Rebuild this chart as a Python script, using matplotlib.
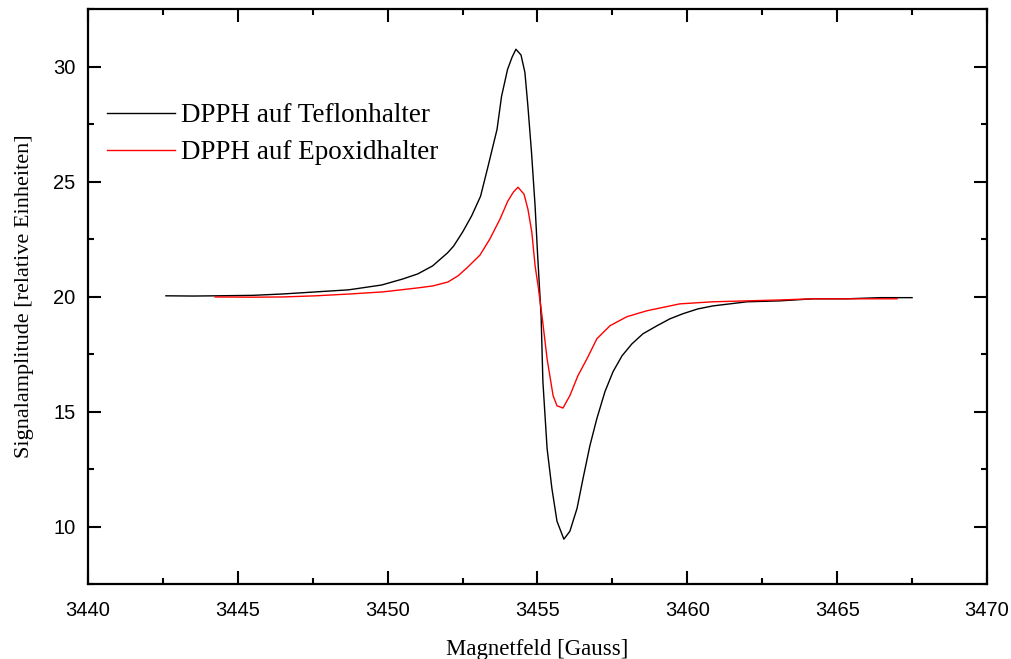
import matplotlib
matplotlib.use("Agg")
import matplotlib.pyplot as plt
from matplotlib.ticker import MultipleLocator

# field values [Gauss] and signal
field_teflon = [3442.6, 3443.5, 3444.3, 3445.5, 3446.5, 3447.6, 3448.7, 3449.8, 3450.5,
                3451.0, 3451.5, 3452.0, 3452.2, 3452.5, 3452.8, 3453.1, 3453.35, 3453.65,
                3453.8, 3454.0, 3454.15, 3454.28, 3454.45, 3454.58, 3454.68, 3454.8,
                3454.92, 3455.0, 3455.12, 3455.18, 3455.32, 3455.48, 3455.65, 3455.88,
                3456.08, 3456.32, 3456.52, 3456.75, 3456.98, 3457.25, 3457.52, 3457.82,
                3458.15, 3458.52, 3458.99, 3459.42, 3459.85, 3460.35, 3460.85, 3461.99,
                3463.09, 3464.19, 3465.33, 3466.43, 3467.5]
signal_teflon = [20.03, 20.02, 20.03, 20.05, 20.11, 20.20, 20.29, 20.50, 20.76,
                 20.98, 21.33, 21.90, 22.19, 22.80, 23.50, 24.36, 25.66, 27.27,
                 28.70, 29.87, 30.40, 30.75, 30.50, 29.74, 28.27, 26.27,
                 23.93, 21.90, 19.16, 16.30, 13.39, 11.66, 10.23, 9.45,
                 9.79, 10.79, 12.09, 13.52, 14.69, 15.86, 16.73, 17.42,
                 17.94, 18.38, 18.73, 19.03, 19.25, 19.46, 19.59, 19.77,
                 19.81, 19.90, 19.90, 19.95, 19.95]

field_epoxid = [3444.24, 3445.5, 3446.5, 3447.6, 3448.74, 3449.84, 3450.98, 3451.51,
                3452.01, 3452.35, 3452.65, 3453.08, 3453.41, 3453.75, 3454.01, 3454.2,
                3454.35, 3454.55, 3454.68, 3454.81, 3454.92, 3455.02, 3455.15, 3455.32,
                3455.52, 3455.65, 3455.85, 3456.08, 3456.35, 3456.65, 3456.98, 3457.42,
                3457.98, 3458.65, 3459.75, 3460.85, 3461.99, 3463.09, 3464.19, 3465.33,
                3466.43, 3467.0]
signal_epoxid = [19.98, 19.97, 19.98, 20.03, 20.11, 20.20, 20.37, 20.46,
                 20.63, 20.90, 21.25, 21.80, 22.50, 23.37, 24.15, 24.55,
                 24.75, 24.45, 23.80, 22.80, 21.33, 20.46, 19.16, 17.29,
                 15.69, 15.25, 15.15, 15.69, 16.56, 17.29, 18.16, 18.73,
                 19.12, 19.38, 19.68, 19.77, 19.81, 19.85, 19.90, 19.90,
                 19.90, 19.90]

labels = ["DPPH auf Teflonhalter", "DPPH auf Epoxidhalter"]

fig = plt.figure(figsize=(10.11, 6.59), dpi=100)
ax = fig.add_axes([88 / 1011, 1 - 584 / 659, 899 / 1011, 575 / 659])

ax.plot(field_teflon, signal_teflon, color="black", lw=1.0, label=labels[0])
ax.plot(field_epoxid, signal_epoxid, color="#ff0000", lw=1.0, label=labels[1])

ax.set_xlim(3440, 3470)
ax.set_ylim(7.5, 32.5)
ax.xaxis.set_major_locator(MultipleLocator(5))
ax.xaxis.set_minor_locator(MultipleLocator(2.5))
ax.yaxis.set_major_locator(MultipleLocator(5))
ax.yaxis.set_minor_locator(MultipleLocator(2.5))
ax.set_yticks([10, 15, 20, 25, 30])

for s in ax.spines.values():
    s.set_linewidth(1.6)
ax.tick_params(which="both", direction="in", top=True, right=True, width=1.5)
ax.tick_params(which="major", length=9.5)
ax.tick_params(which="minor", length=4.5)
ax.tick_params(axis="x", which="major", pad=12)
ax.tick_params(axis="y", which="major", pad=9)
for lab in ax.get_xticklabels() + ax.get_yticklabels():
    lab.set_fontfamily("Liberation Sans")
    lab.set_fontsize(14.5)

ax.set_xlabel("Magnetfeld [Gauss]", family="Liberation Serif", fontsize=16.5, labelpad=14)
ax.set_ylabel("Signalamplitude [relative Einheiten]", family="Liberation Serif", fontsize=16, labelpad=14)

ax.legend(loc="upper left", bbox_to_anchor=(0.021, 0.836), frameon=False,
          borderpad=0, borderaxespad=0, handlelength=2.5, handletextpad=0.22,
          labelspacing=0.45, prop={"family": "Liberation Serif", "size": 19.5})

fig.savefig("out.png", dpi=100)
